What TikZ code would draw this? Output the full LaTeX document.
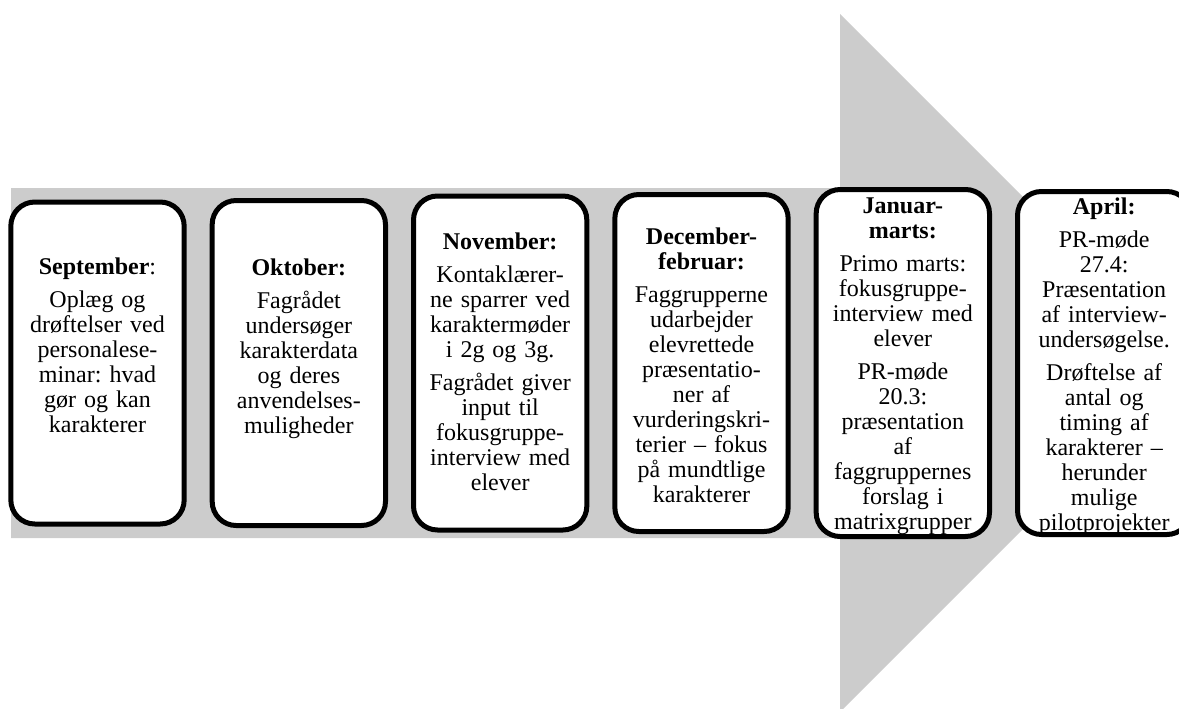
\documentclass[tikz,border=0pt]{standalone}
\usepackage{fontspec}
\setmainfont{Liberation Serif}
\usetikzlibrary{positioning}
\definecolor{arrowgray}{RGB}{204,204,204}
\frenchspacing

\begin{document}
\begin{tikzpicture}[x=0.75pt,y=-0.75pt,node distance=21pt,
	every node/.style={inner sep=0,outer sep=0},
	month/.style={draw=black,line width=3.75pt,fill=white,rounded corners=18pt,minimum width=130pt},
	txt/.style={text width=128pt,align=center,font=\fontsize{18}{18.75}\selectfont}]
	\useasboundingbox (0,0) rectangle (1179,708);
	% big arrow behind the boxes
	\fill[arrowgray] (11,188) -- (840,188) -- (840,14) -- (1189,363) -- (840,712) -- (840,538) -- (11,538) -- cycle;
	\node (sep) [month,minimum height=241.5pt] at (97.5,363) {};
	\node (okt) [month,minimum height=243.75pt,right=of sep] {};
	\node (nov) [month,minimum height=250.5pt,right=of okt] {};
	\node (dec) [month,minimum height=252.75pt,right=of nov] {};
	\node (jan) [month,minimum height=260.25pt,right=of dec] {};
	\node (apr) [month,minimum height=257.25pt,right=of jan] {};
	% texts
	\node (septxt) [txt,below=42pt of sep.north] {\textbf{September}:\\[6pt]
		Oplæg og\\ drøftelser ved\\ personalese-\\ minar: hvad\\ gør og kan\\ karakterer};
	\node (okttxt) [txt,below=43.5pt of okt.north] {\textbf{Oktober:}\\[6pt]
		Fagrådet\\ undersøger\\ karakterdata\\ og deres\\ anvendelses-\\ muligheder};
	\node (novtxt) [txt,below=27.75pt of nov.north] {\textbf{November:}\\[6pt]
		Kontaklærer-\\ ne sparrer ved\\ karaktermøder\\ i 2g og 3g.\\[6pt]
		Fagrådet giver\\ input til\\ fokusgruppe-\\ interview med\\ elever};
	\node (dectxt) [txt,below=24.75pt of dec.north] {\textbf{December-}\\ \textbf{februar:}\\[6pt]
		Faggrupperne\\ udarbejder\\ elevrettede\\ præsentatio-\\ ner af\\ vurderingskri-\\ terier – fokus\\ på mundtlige\\ karakterer};
	\node (jantxt) [txt,below=6pt of jan.north] {\textbf{Januar-}\\ \textbf{marts:}\\[6pt]
		Primo marts:\\ fokusgruppe-\\ interview med\\ elever\\[6pt]
		PR-møde\\ 20.3:\\ præsentation\\ af\\ faggruppernes\\ forslag i\\ matrixgrupper};
	\node (aprtxt) [txt,below=4.5pt of apr.north] {\textbf{April:}\\[6pt]
		PR-møde\\ 27.4:\\ Præsentation\\ af interview-\\ undersøgelse.\\[6pt]
		Drøftelse af\\ antal og\\ timing af\\ karakterer –\\ herunder\\ mulige\\ pilotprojekter};
\end{tikzpicture}
\end{document}
